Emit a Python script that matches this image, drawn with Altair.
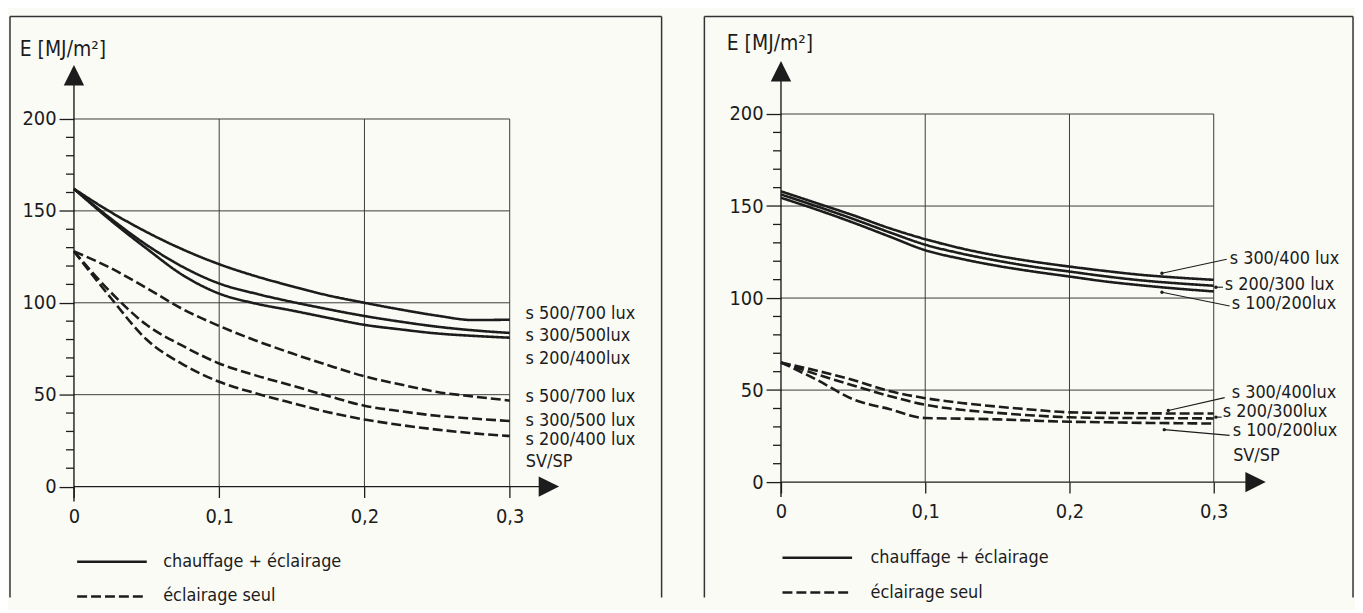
import altair as alt
import pandas as pd

# ---------------- data ----------------
SVSP = [0, 0.025, 0.05, 0.075, 0.1, 0.125, 0.15, 0.175, 0.2, 0.225, 0.25, 0.275, 0.3]
TYPES = ["chauffage + éclairage", "éclairage seul"]
Y_TICKS = [0, 50, 100, 150, 200]
Y_MINOR = [v for v in range(10, 200, 10) if v % 50]
X_TICKS = [0, 0.1, 0.2, 0.3]

# left panel
L_NAMES = ["s 500/700 lux", "s 300/500lux", "s 200/400lux",
           "s 500/700 lux", "s 300/500 lux", "s 200/400 lux"]
L_TYPES = [TYPES[0]] * 3 + [TYPES[1]] * 3
L_S_500_700 = [162, 149.5, 138.5, 129, 121, 114.5, 109, 104, 100, 96.3, 93, 90.6, 90.8]
L_S_300_500 = [162, 146, 131.5, 119.5, 110.5, 105, 100.5, 96.5, 92.8, 89.7, 87, 85, 83.6]
L_S_200_400 = [162, 145, 129.5, 115, 105, 99.6, 95.8, 91.8, 88, 85.5, 83.3, 82, 81]
L_D_500_700 = [128, 119, 108, 96.5, 87.4, 79.5, 72.5, 66, 60, 55.5, 51.5, 49, 46.8]
L_D_300_500 = [128, 106, 88, 76.5, 67, 60.5, 55, 49.3, 44, 41, 38.5, 37, 35.7]
L_D_200_400 = [128, 103, 80, 66.5, 57, 50.8, 45.5, 40.5, 36.5, 33.5, 31, 29, 27.5]
L_SERIES = [L_S_500_700, L_S_300_500, L_S_200_400, L_D_500_700, L_D_300_500, L_D_200_400]

# right panel
R_NAMES = ["s 300/400 lux", "s 200/300 lux", "s 100/200lux",
           "s 300/400lux", "s 200/300lux", "s 100/200lux"]
R_TYPES = [TYPES[0]] * 3 + [TYPES[1]] * 3
R_S_300_400 = [158, 151.5, 145, 138, 132, 127, 123, 119.8, 117.1, 114.7, 112.6, 111.1, 109.9]
R_S_200_300 = [156.3, 149.8, 143, 135.8, 129, 124.2, 120.3, 117, 114.4, 111.8, 109.6, 108, 106.7]
R_S_100_200 = [154.5, 148, 141, 133.5, 126, 121.3, 117.5, 114.4, 111.7, 109, 106.9, 105.1, 103.6]
R_D_300_400 = [65, 60.5, 55.5, 49.5, 45.6, 43, 41, 39.3, 37.9, 37.6, 37.4, 37.3, 37.3]
R_D_200_300 = [65, 58.5, 52.5, 46.8, 42, 39.3, 37.6, 36.2, 35.2, 34.9, 34.8, 34.7, 34.6]
R_D_100_200 = [65, 55.5, 45, 39.7, 34.8, 34.5, 34.1, 33.4, 32.8, 32.5, 32.2, 32, 31.8]
R_SERIES = [R_S_300_400, R_S_200_300, R_S_100_200, R_D_300_400, R_D_200_300, R_D_100_200]

# ---------------- style ----------------
FONT = "DejaVu Sans Condensed, DejaVu Sans, sans-serif"
FS_TICK = 20
FS_TITLE = 21
FS_LAB = 18
FS_LEG = 18
INK = "#1c1c1c"
GRID = "#3a3a3a"
BG = "#fbfbf6"
ARROW = "M0,-1L1,1L-1,1Z"
ARROW_R = "M1,0L-1,-1L-1,1Z"
H = 584


def panel(names, types, series, W, x0px, y0px, pxx, pxy, lab_off, ytitle, xtitle,
          arrow_y, arrow_x, legend_xy, leaders=None):
    # scale domains so that the data fill the whole framed box
    xdom = [-x0px / pxx, (W - x0px) / pxx]
    ydom = [-(H - y0px) / pxy, y0px / pxy]
    xs = alt.Scale(domain=xdom, nice=False, zero=False)
    ys = alt.Scale(domain=ydom, nice=False, zero=False)

    rows = []
    for i, (n, t, vals) in enumerate(zip(names, types, series)):
        for x, v in zip(SVSP, vals):
            rows.append({"x": x, "E": v, "key": f"{i}", "type": t})
    df = pd.DataFrame(rows)

    xaxis = alt.Axis(values=X_TICKS, offset=-(H - y0px), domain=False, grid=False,
                     tickSize=11, tickColor=INK, tickWidth=1.3,
                     labelExpr="datum.value == 0 ? '0' : replace(format(datum.value, '.1f'), '.', ',')",
                     labelFont=FONT, labelFontSize=FS_TICK, labelColor=INK, labelPadding=9,
                     labelFlush=False, labelOverlap=False, labelBound=False,
                     title=xtitle[0], titleX=xtitle[1], titleY=xtitle[2], titleAngle=0,
                     titleAlign="left", titleBaseline="middle", titleFont=FONT,
                     titleFontSize=FS_LAB, titleFontWeight="normal", titleColor=INK)
    yaxis = alt.Axis(values=Y_TICKS, offset=-x0px, domain=False, grid=False,
                     tickSize=15, tickColor=INK, tickWidth=1.3, format="d",
                     labelFont=FONT, labelFontSize=FS_TICK, labelColor=INK, labelPadding=3,
                     labelFlush=False, labelOverlap=False, labelBound=False,
                     title=ytitle[0], titleX=ytitle[1], titleY=ytitle[2], titleAngle=0,
                     titleAlign="left", titleBaseline="middle", titleFont=FONT,
                     titleFontSize=FS_TITLE, titleFontWeight="normal", titleColor=INK)
    legend = alt.Legend(orient="none", legendX=legend_xy[0], legendY=legend_xy[1],
                        title=None, symbolType="stroke", symbolSize=4900,
                        symbolStrokeWidth=2.4, symbolStrokeColor=INK, symbolOffset=0,
                        labelFont=FONT, labelFontSize=FS_LEG, labelColor=INK,
                        labelOffset=legend_xy[2], labelLimit=500, clipHeight=22,
                        rowPadding=13, padding=0, direction="vertical")

    base = alt.Chart(pd.DataFrame({"a": [0]}))
    layers = []
    # frame (left, top, right edges; bottom lies outside the picture)
    layers.append(base.mark_rule(color="#333", strokeWidth=1.5).encode(
        x=alt.value(0), y=alt.value(0), y2=alt.value(H)))
    layers.append(base.mark_rule(color="#333", strokeWidth=1.5).encode(
        x=alt.value(0), x2=alt.value(W), y=alt.value(0)))
    layers.append(base.mark_rule(color="#333", strokeWidth=1.5).encode(
        x=alt.value(W), y=alt.value(0), y2=alt.value(H)))
    # grid
    layers.append(alt.Chart(pd.DataFrame({"E": Y_TICKS[1:]})).mark_rule(
        color=GRID, strokeWidth=1).encode(
        y=alt.Y("E:Q", scale=ys), x=alt.datum(0), x2=alt.datum(X_TICKS[-1])))
    layers.append(alt.Chart(pd.DataFrame({"x": X_TICKS[1:]})).mark_rule(
        color=GRID, strokeWidth=1).encode(
        x=alt.X("x:Q", scale=xs), y=alt.datum(0), y2=alt.datum(Y_TICKS[-1])))
    # axis lines with arrows
    layers.append(base.mark_rule(color=INK, strokeWidth=1.4).encode(
        x=alt.datum(0), y=alt.datum(-15 / pxy), y2=alt.datum(arrow_y)))
    layers.append(base.mark_rule(color=INK, strokeWidth=1.4).encode(
        y=alt.datum(0), x=alt.datum(0), x2=alt.datum(arrow_x)))
    layers.append(base.mark_point(shape=ARROW, filled=True, size=420, color=INK,
                                  opacity=1, strokeWidth=0).encode(
        x=alt.datum(0), y=alt.datum(arrow_y)))
    layers.append(base.mark_point(shape=ARROW_R, filled=True, size=420, color=INK,
                                  opacity=1, strokeWidth=0).encode(
        x=alt.datum(arrow_x), y=alt.datum(0)))
    # minor ticks
    layers.append(alt.Chart(pd.DataFrame({"E": Y_MINOR})).mark_rule(
        color=INK, strokeWidth=1.3).encode(
        y=alt.Y("E:Q", scale=ys), x=alt.datum(-8 / pxx), x2=alt.datum(0)))
    # curves
    layers.append(alt.Chart(df).mark_line(strokeWidth=2.6, color=INK,
                                          interpolate="monotone").encode(
        x=alt.X("x:Q", scale=xs, axis=xaxis),
        y=alt.Y("E:Q", scale=ys, axis=yaxis),
        detail="key:N",
        strokeDash=alt.StrokeDash("type:N", scale=alt.Scale(domain=TYPES, range=[[1, 0], [10, 4]]),
                                  legend=legend)))
    # end labels
    for n, vals, (dx, dy) in zip(names, series, lab_off):
        layers.append(alt.Chart(pd.DataFrame({"x": [SVSP[-1]], "E": [vals[-1]], "t": [n]})).mark_text(
            align="left", baseline="middle", dx=dx, dy=dy, font=FONT, fontSize=FS_LAB,
            color=INK).encode(x="x:Q", y="E:Q", text="t:N"))
    if leaders:
        ldf = pd.DataFrame(leaders, columns=["x", "E", "x2", "E2"])
        layers.append(alt.Chart(ldf).mark_rule(color=INK, strokeWidth=1.1).encode(
            x="x:Q", y="E:Q", x2="x2:Q", y2="E2:Q"))
        layers.append(alt.Chart(ldf).mark_circle(color=INK, size=12, opacity=1).encode(
            x="x:Q", y="E:Q"))
    return alt.layer(*layers).properties(width=W, height=H)


left = panel(L_NAMES, L_TYPES, L_SERIES, W=655, x0px=64.3, y0px=472.5, pxx=1460, pxy=1.8475,
             lab_off=[(16, -6), (16, 3), (16, 21), (16, -4), (16, 0), (16, 4)],
             ytitle=("E [MJ/m²]", -55, 33), xtitle=("SV/SP", 518, -25),
             arrow_y=223.8, arrow_x=0.327, legend_xy=(66, 537, 15))

right_leaders = [
    (0.2641, 113.5, 0.309, 121.1),
    (0.3015, 105.9, 0.3064, 105.9),
    (0.2641, 103.2, 0.311, 95.7),
    (0.2685, 38.9, 0.3076, 45.9),
    (0.3015, 35.3, 0.3055, 35.3),
    (0.2657, 28.5, 0.311, 25.4),
]
right = panel(R_NAMES, R_TYPES, R_SERIES, W=652, x0px=77, y0px=468, pxx=1450, pxy=1.85,
              lab_off=[(16, -21), (11, -1), (18, 13), (18, -21), (9, -6), (19, 7)],
              ytitle=("E [MJ/m²]", -55, 27), xtitle=("SV/SP", 531, -27),
              arrow_y=223.2, arrow_x=0.329, legend_xy=(77, 533, 17), leaders=right_leaders)

chart = alt.hconcat(left, right, spacing=41).resolve_scale(
    strokeDash="independent").resolve_legend(strokeDash="independent").properties(
    padding={"left": 1, "top": 6, "right": 1, "bottom": 1}, background=BG
).configure_view(stroke=None)

chart.save("out.html", embed_options={"renderer": "svg", "actions": False})
